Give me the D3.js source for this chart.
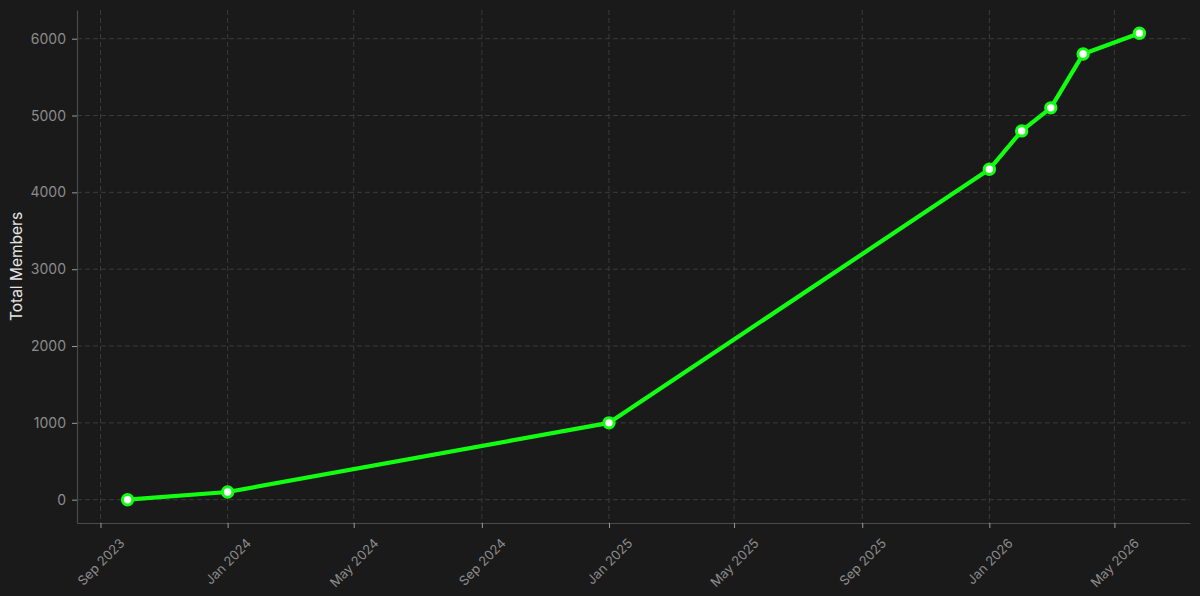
<!DOCTYPE html>
<html>
<head>
<meta charset="utf-8">
<script src="https://cdn.jsdelivr.net/npm/d3@7"></script>
<style>
  html, body { margin: 0; padding: 0; background: #1a1a1a; }
  svg { display: block; }
  text { font-family: "Inter", "Open Sans", sans-serif; }
</style>
</head>
<body>
<svg id="chart" width="1200" height="596"></svg>
<script>
const dates = ["2023-09-27", "2024-01-01", "2025-01-01", "2026-01-01", "2026-02-01", "2026-03-01", "2026-04-01", "2026-05-25"];
const members = [0, 100, 1000, 4300, 4800, 5100, 5800, 6070];
const yTicks = [0, 1000, 2000, 3000, 4000, 5000, 6000];
const yLabel = "Total Members";

const W = 1200, H = 596;
const m = { left: 77, right: 10, top: 10, bottom: 73 };
const svg = d3.select("#chart");
svg.append("rect").attr("width", W).attr("height", H).attr("fill", "#1a1a1a");

const data = dates.map((d, i) => ({ date: d3.utcParse("%Y-%m-%d")(d), value: members[i] }));

const xExt = d3.extent(data, d => +d.date);
const xPad = (xExt[1] - xExt[0]) * 0.05;
const x = d3.scaleUtc()
  .domain([new Date(xExt[0] - xPad), new Date(xExt[1] + xPad)])
  .range([m.left, W - m.right]);

const yExt = d3.extent(members);
const yPad = (yExt[1] - yExt[0]) * 0.05;
const y = d3.scaleLinear()
  .domain([yExt[0] - yPad, yExt[1] + yPad])
  .range([H - m.bottom, m.top]);

const xTicks = x.ticks(d3.utcMonth.every(4));

// grid
const grid = svg.append("g");
grid.selectAll(".gy").data(yTicks).join("line")
  .attr("x1", m.left).attr("x2", W - m.right)
  .attr("y1", d => y(d)).attr("y2", d => y(d))
  .attr("stroke", "#3a3a3a").attr("stroke-width", 1).attr("stroke-dasharray", "5,3");
grid.selectAll(".gx").data(xTicks).join("line")
  .attr("x1", d => x(d)).attr("x2", d => x(d))
  .attr("y1", m.top).attr("y2", H - m.bottom)
  .attr("stroke", "#3a3a3a").attr("stroke-width", 1).attr("stroke-dasharray", "5,3");

// axes
const xAxis = svg.append("g")
  .attr("transform", `translate(0,${H - m.bottom})`)
  .call(d3.axisBottom(x).tickValues(xTicks).tickFormat(d3.utcFormat("%b %Y")).tickSize(5).tickPadding(4).tickSizeOuter(0));
xAxis.select(".domain").attr("stroke", "#4a4a4a").attr("stroke-width", 1.2);
xAxis.selectAll(".tick line").attr("stroke", "#999");
const xfs = 13;
xAxis.selectAll(".tick text")
  .attr("fill", "#8c8c8c").attr("font-size", xfs)
  .attr("text-anchor", "middle")
  .attr("y", 0).attr("dy", "0.35em")
  .each(function() {
    const L = this.getComputedTextLength();
    const h = xfs * 0.85;
    const cy = 14 + (L + h) * 0.7071 / 2;
    d3.select(this).attr("transform", `translate(0,${cy}) rotate(-45)`);
  });

const yAxis = svg.append("g")
  .attr("transform", `translate(${m.left},0)`)
  .call(d3.axisLeft(y).tickValues(yTicks).tickFormat(d3.format("d")).tickSize(5).tickPadding(6).tickSizeOuter(0));
yAxis.select(".domain").attr("stroke", "#4a4a4a").attr("stroke-width", 1.2);
yAxis.selectAll(".tick line").attr("stroke", "#999");
yAxis.selectAll(".tick text").attr("fill", "#8c8c8c").attr("font-size", 14);

svg.append("text")
  .attr("transform", `translate(22,${(m.top + H - m.bottom) / 2}) rotate(-90)`)
  .attr("text-anchor", "middle")
  .attr("fill", "#e6e6e6").attr("font-size", 15.5)
  .text(yLabel);

// line
const line = d3.line().x(d => x(d.date)).y(d => y(d.value));
svg.append("path").datum(data)
  .attr("d", line)
  .attr("fill", "none")
  .attr("stroke", "#12ff12")
  .attr("stroke-width", 4.2)
  .attr("stroke-linejoin", "round");

svg.selectAll(".pt").data(data).join("circle")
  .attr("cx", d => x(d.date)).attr("cy", d => y(d.value))
  .attr("r", 5.2)
  .attr("fill", "#ffffff")
  .attr("stroke", "#12ff12")
  .attr("stroke-width", 3);
</script>
</body>
</html>
